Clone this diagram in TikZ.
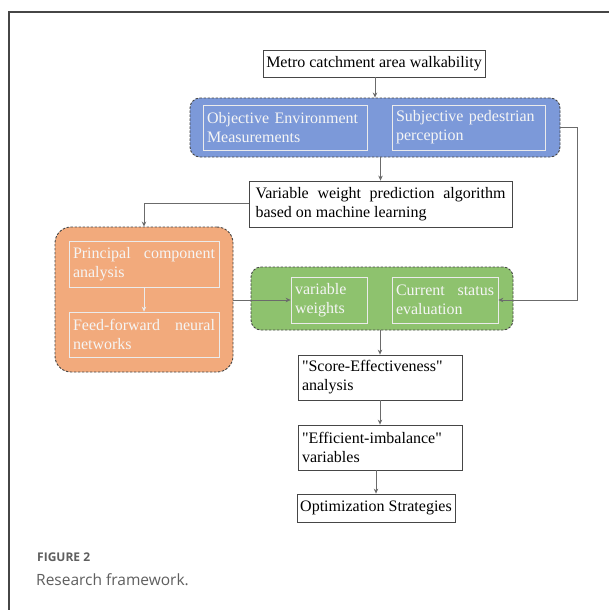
\documentclass[tikz,border=0pt]{standalone}
\usepackage{fontspec}
\setmainfont{Liberation Serif}
\newfontfamily\qf{Liberation Serif}
\newfontfamily\capfont{Open Sans}
\usetikzlibrary{arrows.meta}
\definecolor{bluegrp}{RGB}{124,153,217}
\definecolor{orangegrp}{RGB}{242,170,124}
\definecolor{greengrp}{RGB}{142,194,110}
\definecolor{linegray}{RGB}{70,70,70}
\definecolor{capgray}{RGB}{95,95,95}
\newcommand{\dq}{{\qf"}}
\tikzset{
  plainbox/.style={draw=linegray, line width=0.8pt, fill=white, inner sep=0pt, font=\fontsize{16}{19}\selectfont, text=black},
  grpbox/.style={draw=linegray, dashed, dash pattern=on 2.5pt off 1.5pt, line width=0.9pt, rounded corners=10pt, inner sep=0pt},
  innerbox/.style={draw=white!92!black, line width=0.7pt, inner sep=0pt, text=white!96!black, font=\fontsize{16}{19}\selectfont},
  conn/.style={draw=linegray!80, line width=0.8pt, -{Stealth[length=5pt,width=4.5pt]}},
  wconn/.style={draw=white!92!black, line width=0.8pt, -{Stealth[length=5pt,width=4.5pt]}}
}
\begin{document}
\begin{tikzpicture}[x=1pt,y=-1pt]
\useasboundingbox (0,0) rectangle (609,610);
\fill[white] (0,0) rectangle (609,610);
% frame
\draw[linegray, line width=1.5pt] (9,610) -- (9,12) -- (609,12);

% top box
\node[plainbox, minimum width=222pt, minimum height=27pt] (top) at (374,63.5) {Metro catchment area walkability};

% blue group
\node[grpbox, fill=bluegrp, minimum width=370pt, minimum height=59pt] (blue) at (375,127.5) {};
\node[innerbox, minimum width=164pt, minimum height=45pt, text width=156pt, align=left] (obj) at (285,127.5) {Objective Environment\\Measurements};
\node[innerbox, minimum width=153pt, minimum height=45pt, text width=145pt, align=left] (subj) at (468.5,127.5) {Subjective pedestrian\\perception};

% variable weight box
\node[plainbox, minimum width=263pt, minimum height=46pt, text width=250pt, align=justify] (vw) at (380.5,204) {Variable weight prediction algorithm based on machine learning};

% orange group
\node[grpbox, rounded corners=16pt, fill=orangegrp, minimum width=178pt, minimum height=145pt] (orange) at (144,299.5) {};
\node[innerbox, minimum width=150pt, minimum height=46pt, text width=142pt, align=justify] (pca) at (144,264) {Principal component analysis};
\node[innerbox, minimum width=150pt, minimum height=45pt, text width=142pt, align=justify] (ffnn) at (144,334.5) {Feed-forward neural networks};

% green group
\node[grpbox, fill=greengrp, minimum width=262pt, minimum height=63pt] (green) at (382,298.5) {};
\node[innerbox, minimum width=76pt, minimum height=46pt, text width=68pt, align=left] (vwt) at (329,300) {variable\\weights};
\node[innerbox, minimum width=106pt, minimum height=46pt, text width=98pt, align=justify] (cse) at (445,300) {Current status evaluation};

% lower boxes
\node[plainbox, minimum width=164pt, minimum height=45pt, text width=156pt, align=left] (score) at (380,377.5) {\dq Score-Effectiveness\dq\\analysis};
\node[plainbox, minimum width=164pt, minimum height=45pt, text width=156pt, align=left] (eff) at (380,447.5) {\dq Efficient-imbalance\dq\\variables};
\node[plainbox, minimum width=158pt, minimum height=28pt] (opt) at (376,508) {Optimization Strategies};

% connectors
\draw[conn] (top.south -| blue.north) -- (blue.north);
\draw[conn] (blue.south -| vw.north) -- (vw.north);
\coordinate (vwl) at (144,203);
\draw[conn] (vw.west |- vwl) -- (vwl) -- (orange.north);
\draw[wconn] (pca.south) -- (ffnn.north);
\draw[conn] (orange.east |- vwt.west) -- (vwt.west);
\coordinate (rc1) at (577,127.5);
\draw[conn] (blue.east |- rc1) -- (rc1) -- (rc1 |- cse.east) -- (cse.east);
\draw[conn] (green.south -| score.north) -- (score.north);
\draw[conn] (score.south) -- (eff.north);
\draw[conn] (eff.south -| opt.north) -- (opt.north);

% caption
\node[anchor=west, text=capgray, font=\capfont\bfseries\fontsize{12}{14}\selectfont, inner sep=0pt] (fig) at (37,557) {FIGURE 2};
\node[anchor=west, text=capgray, font=\capfont\fontsize{15.5}{18}\selectfont, inner sep=0pt] (cap) at (36,580) {Research framework.};
\end{tikzpicture}
\end{document}
